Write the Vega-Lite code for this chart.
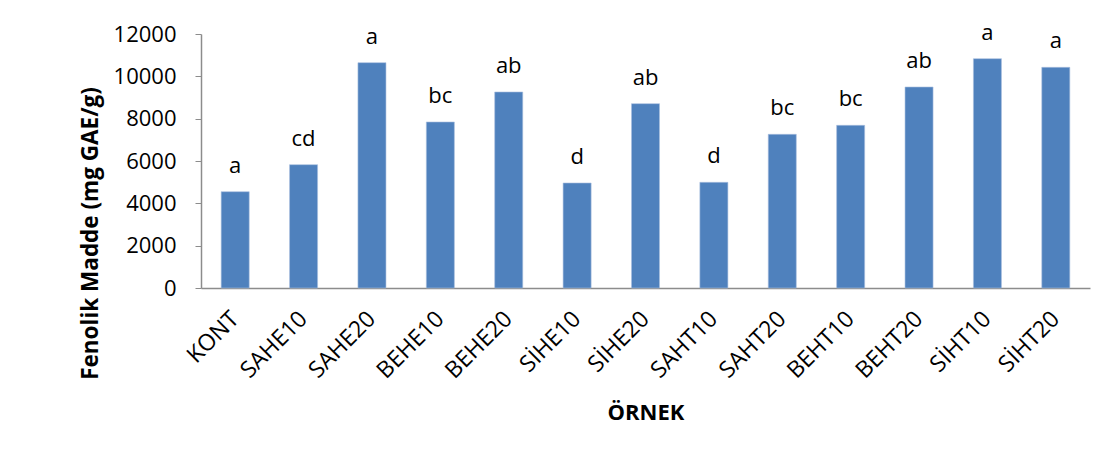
{
  "$schema": "https://vega.github.io/schema/vega-lite/v6.json",
  "autosize": "none",
  "width": 889,
  "height": 254,
  "padding": {"left": 201, "top": 34, "right": 24, "bottom": 171},
  "background": "white",
  "config": {
    "view": {"stroke": null},
    "font": "Open Sans"
  },
  "data": {
    "values": [
      {"ornek": "KONT", "deger": 4550, "harf": "a"},
      {"ornek": "SAHE10", "deger": 5826, "harf": "cd"},
      {"ornek": "SAHE20", "deger": 10646, "harf": "a"},
      {"ornek": "BEHE10", "deger": 7843, "harf": "bc"},
      {"ornek": "BEHE20", "deger": 9260, "harf": "ab"},
      {"ornek": "SİHE10", "deger": 4961, "harf": "d"},
      {"ornek": "SİHE20", "deger": 8709, "harf": "ab"},
      {"ornek": "SAHT10", "deger": 4992, "harf": "d"},
      {"ornek": "SAHT20", "deger": 7260, "harf": "bc"},
      {"ornek": "BEHT10", "deger": 7685, "harf": "bc"},
      {"ornek": "BEHT20", "deger": 9496, "harf": "ab"},
      {"ornek": "SİHT10", "deger": 10835, "harf": "a"},
      {"ornek": "SİHT20", "deger": 10425, "harf": "a"}
    ]
  },
  "encoding": {
    "x": {
      "field": "ornek",
      "type": "nominal",
      "sort": null,
      "scale": {"paddingInner": 0.59, "paddingOuter": 0.295},
      "axis": {
        "title": "ÖRNEK",
        "titleFont": "Open Sans",
        "titleFontSize": 22,
        "titleFontWeight": "bold",
        "titleColor": "black",
        "titlePadding": 20,
        "labelAngle": -45,
        "labelAlign": "right",
        "labelBaseline": "middle",
        "labelFont": "Open Sans",
        "labelFontSize": 23,
        "labelColor": "black",
        "labelPadding": 27,
        "ticks": false,
        "domainColor": "#8c8c8c",
        "domainWidth": 1.5,
        "grid": false
      }
    },
    "y": {
      "field": "deger",
      "type": "quantitative",
      "scale": {"domain": [0, 12000], "nice": false},
      "axis": {
        "title": "Fenolik Madde (mg GAE/g)",
        "titleFont": "Open Sans",
        "titleFontSize": 22.5,
        "titleFontWeight": "bold",
        "titleColor": "black",
        "titleX": -99,
        "titleY": 199,
        "values": [0, 2000, 4000, 6000, 8000, 10000, 12000],
        "format": "d",
        "labelFont": "Open Sans",
        "labelFontSize": 22,
        "labelColor": "black",
        "labelPadding": 19,
        "tickSize": 6,
        "tickColor": "#8c8c8c",
        "domainColor": "#8c8c8c",
        "domainWidth": 1.5,
        "grid": false
      }
    }
  },
  "layer": [
    {
      "mark": {"type": "bar", "color": "#4F81BD", "stroke": "#a9c0df", "strokeWidth": 0.6}
    },
    {
      "mark": {"type": "text", "baseline": "alphabetic", "dy": -19, "fontSize": 22, "font": "Open Sans", "color": "black"},
      "encoding": {"text": {"field": "harf"}}
    }
  ]
}
